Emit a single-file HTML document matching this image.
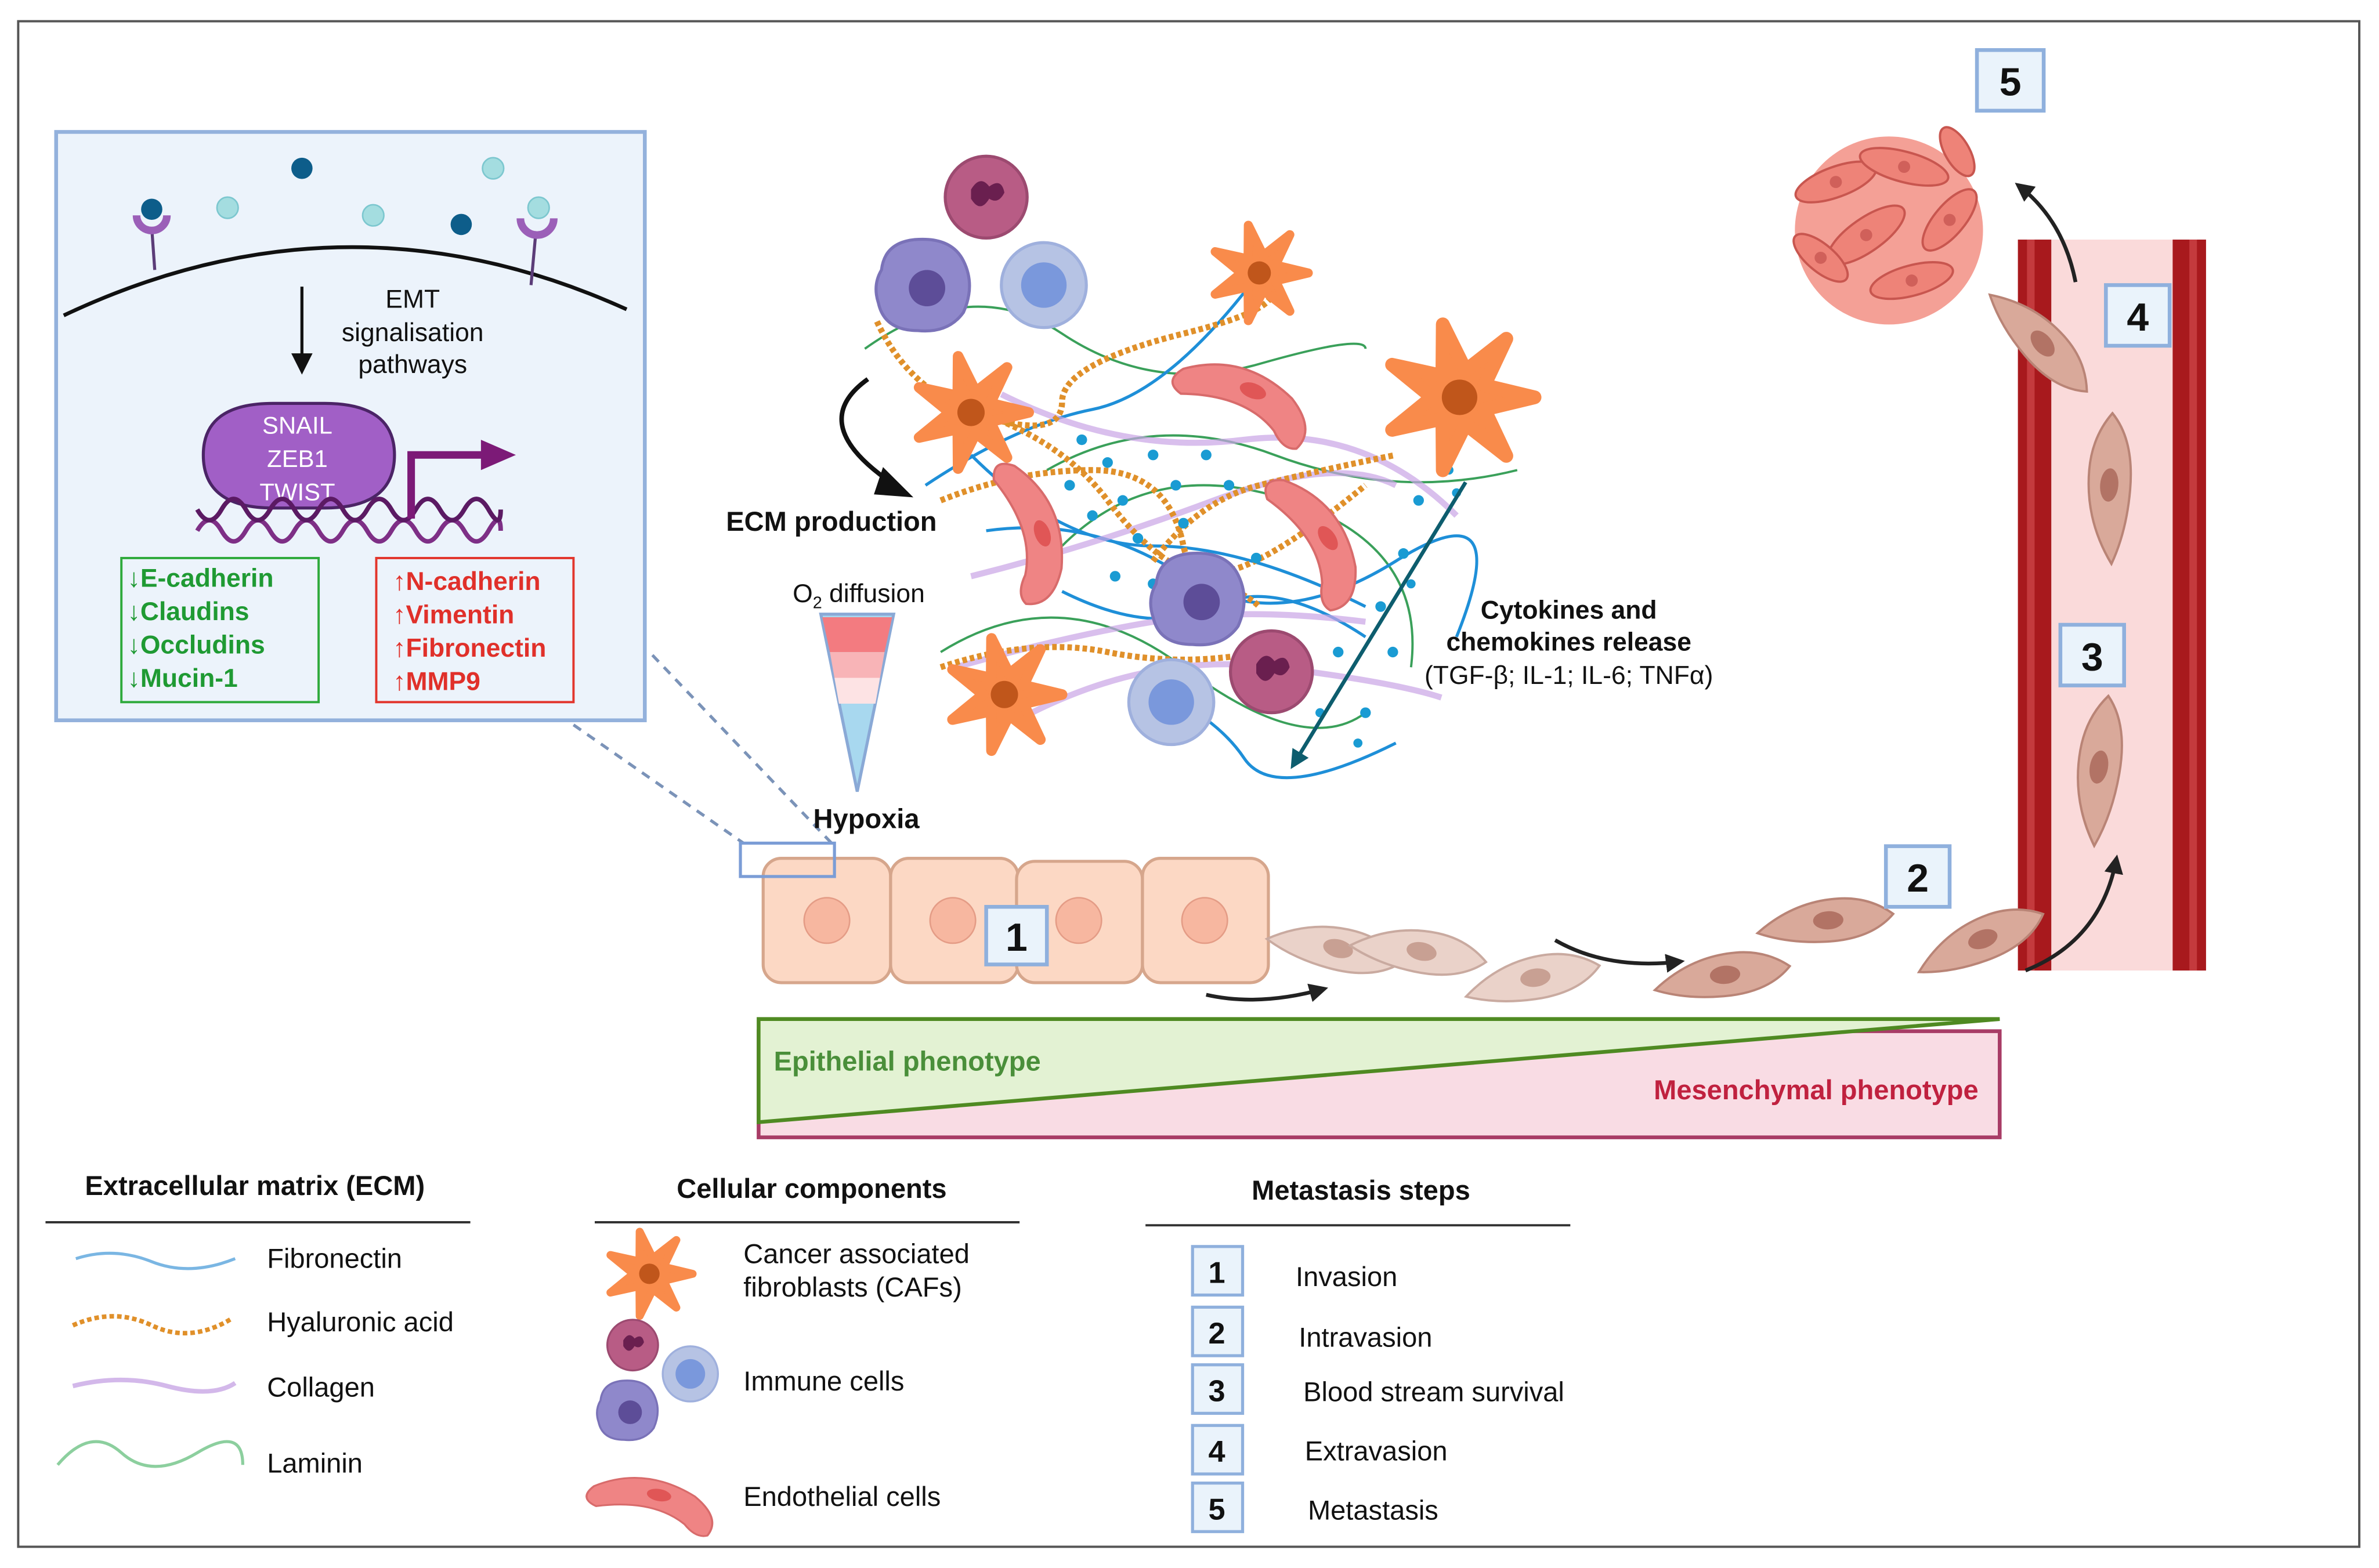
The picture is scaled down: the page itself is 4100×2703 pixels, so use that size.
<!DOCTYPE html>
<html><head><meta charset="utf-8"><style>
html,body{margin:0;padding:0;background:#fff;}
svg{display:block;}
text{font-family:"Liberation Sans",sans-serif;}
</style></head><body>
<svg width="4100" height="2703" viewBox="0 0 1568 1034" preserveAspectRatio="none" xmlns="http://www.w3.org/2000/svg">
<defs>
<g id="caf"><path d="M38,0 L12.6,6.1 L23.7,29.7 L3.1,13.6 L-8.5,37 L-8.7,10.9 L-34.2,16.5 L-14,0 L-34.2,-16.5 L-8.7,-10.9 L-8.5,-37 L3.1,-13.6 L23.7,-29.7 L12.6,-6.1Z" fill="#f98b4b" stroke="#f98b4b" stroke-width="7" stroke-linejoin="round"/><circle r="9" fill="#c0561b"/></g>
<g id="neu"><circle r="27" fill="#b85c85" stroke="#9c4a70" stroke-width="2"/><path d="M-10,-5 q6,-10 12,-2 q8,-6 10,4 q-4,8 -10,4 q-6,10 -12,0z" fill="#6a1f4f"/></g>
<g id="mac"><path d="M-28,-10 Q-26,-28 -6,-30 Q18,-32 26,-16 Q34,0 26,18 Q16,32 -4,30 Q-26,30 -30,12 Q-34,0 -28,-10Z" fill="#8f88cb" stroke="#7a72b8" stroke-width="2"/><circle cx="2" cy="2" r="12" fill="#5d4d98"/></g>
<g id="lym"><circle r="28" fill="#b6c3e4" stroke="#9fb0dd" stroke-width="2"/><circle r="15" fill="#7a98dc"/></g>
<g id="endo"><path d="M-44,-4 Q-10,-28 30,-10 Q52,4 44,20 Q36,24 26,14 Q0,-2 -40,12 Q-54,8 -44,-4Z" fill="#ef8484" stroke="#d86b6b" stroke-width="1.5"/><ellipse cx="4" cy="-6" rx="9" ry="5" fill="#e05656"/></g>
<g id="mes"><path d="M-45,6 Q-20,-14 10,-14 Q30,-14 45,-2 Q30,14 0,14 Q-25,14 -45,6Z" fill="#d9a99a" stroke="#b98476" stroke-width="1.5"/><ellipse cx="2" cy="0" rx="10" ry="6" fill="#b27365"/></g>
<g id="mesL"><path d="M-45,6 Q-20,-14 10,-14 Q30,-14 45,-2 Q30,14 0,14 Q-25,14 -45,6Z" fill="#ead2c9" stroke="#c9aaa0" stroke-width="1.5"/><ellipse cx="2" cy="0" rx="10" ry="6" fill="#c8a093"/></g>
<marker id="ah" viewBox="0 0 10 10" refX="8" refY="5" markerWidth="5" markerHeight="5" orient="auto"><path d="M0,0 L10,5 L0,10z" fill="#222"/></marker>
<marker id="ahT" viewBox="0 0 10 10" refX="8" refY="5" markerWidth="5" markerHeight="5" orient="auto"><path d="M0,0 L10,5 L0,10z" fill="#0d5d6e"/></marker>
</defs>
<rect width="1568" height="1034" fill="#fff"/>
<rect x="12" y="14" width="1543" height="1006" fill="none" stroke="#555" stroke-width="1.5"/>

<rect x="37" y="87" width="388" height="388" fill="#ecf3fb" stroke="#93b1dc" stroke-width="2.5"/>
<path d="M42,208 Q228,120 413,204" fill="none" stroke="#111" stroke-width="2.5"/>
<line x1="102" y1="178" x2="100" y2="150" stroke="#5b3c78" stroke-width="2"/>
<path d="M90,142 a10,10 0 0 0 20,0" fill="none" stroke="#9b5fb8" stroke-width="5"/>
<line x1="350" y1="188" x2="353" y2="155" stroke="#5b3c78" stroke-width="2"/>
<path d="M343,144 a11,11 0 0 0 22,0" fill="none" stroke="#9b5fb8" stroke-width="5"/>
<circle cx="100" cy="138" r="7" fill="#0d5d8a"/><circle cx="199" cy="111" r="7" fill="#0d5d8a"/><circle cx="304" cy="148" r="7" fill="#0d5d8a"/>
<circle cx="150" cy="137" r="7" fill="#a4dde0" stroke="#7cc7cf"/><circle cx="246" cy="142" r="7" fill="#a4dde0" stroke="#7cc7cf"/><circle cx="325" cy="111" r="7" fill="#a4dde0" stroke="#7cc7cf"/><circle cx="355" cy="137" r="7" fill="#a4dde0" stroke="#7cc7cf"/>
<line x1="199" y1="189" x2="199" y2="238" stroke="#111" stroke-width="2"/><path d="M192,233 L206,233 L199,247Z" fill="#111"/>
<text x="272" y="203" font-size="17" text-anchor="middle" fill="#111">EMT</text>
<text x="272" y="225" font-size="17" text-anchor="middle" fill="#111">signalisation</text>
<text x="272" y="246" font-size="17" text-anchor="middle" fill="#111">pathways</text>
<path d="M134,300 Q134,266 180,266 L214,266 Q260,266 260,300 Q260,335 214,335 L180,335 Q134,335 134,300Z" fill="#a15fc6" stroke="#4b2466" stroke-width="2"/>
<text x="196" y="286" font-size="16" text-anchor="middle" fill="#fff">SNAIL</text>
<text x="196" y="308" font-size="16" text-anchor="middle" fill="#fff">ZEB1</text>
<text x="196" y="330" font-size="16" text-anchor="middle" fill="#fff">TWIST</text>
<path d="M130,350 q8,-14 16,0 t16,0 t16,0 t16,0 t16,0 t16,0 t16,0 t16,0 t16,0 t16,0 t16,0 t16,0 t8,0" fill="none" stroke="#7e2f86" stroke-width="3"/>
<path d="M130,336 q8,14 16,0 t16,0 t16,0 t16,0 t16,0 t16,0 t16,0 t16,0 t16,0 t16,0 t16,0 t16,0 t8,0" fill="none" stroke="#5b1a63" stroke-width="3"/>
<path d="M271,342 L271,300 L320,300" fill="none" stroke="#7c1a77" stroke-width="5"/><path d="M317,290 L340,300 L317,310Z" fill="#7c1a77"/>
<rect x="80" y="368" width="130" height="95" fill="none" stroke="#2faa3c" stroke-width="1.5"/>
<rect x="248" y="368" width="130" height="95" fill="none" stroke="#e2352c" stroke-width="1.5"/>
<g font-size="17" font-weight="bold" fill="#1f9a33"><text x="84" y="387">↓E-cadherin</text><text x="84" y="409">↓Claudins</text><text x="84" y="431">↓Occludins</text><text x="84" y="453">↓Mucin-1</text></g>
<g font-size="17" font-weight="bold" fill="#e0302a"><text x="259" y="389">↑N-cadherin</text><text x="259" y="411">↑Vimentin</text><text x="259" y="433">↑Fibronectin</text><text x="259" y="455">↑MMP9</text></g>
<line x1="378" y1="478" x2="490" y2="556" stroke="#7b93b8" stroke-width="2" stroke-dasharray="6,5"/>
<line x1="430" y1="432" x2="550" y2="558" stroke="#7b93b8" stroke-width="2" stroke-dasharray="6,5"/>

<g fill="none" stroke-width="2">
<path d="M570,230 Q640,180 700,220 T830,240 T900,230" stroke="#3aa05a" stroke-width="1.5"/>
<path d="M690,310 Q760,270 840,300 T1000,310" stroke="#3aa05a" stroke-width="1.5"/>
<path d="M620,430 Q700,380 780,440 T900,470" stroke="#3aa05a" stroke-width="1.5"/>
<path d="M700,360 Q760,300 850,330 T930,440" stroke="#3aa05a" stroke-width="1.5"/>
<path d="M610,320 Q670,280 720,270 T830,180" stroke="#1e8fd8"/>
<path d="M650,350 Q720,340 780,380 T920,370 T960,420" stroke="#1e8fd8"/>
<path d="M700,390 Q760,420 800,400 T900,420" stroke="#1e8fd8"/>
<path d="M750,450 Q800,470 820,500 T920,490" stroke="#1e8fd8"/>
<path d="M640,300 Q700,360 760,360 T900,400" stroke="#1e8fd8"/>
<path d="M660,260 Q740,300 820,290 T960,340" stroke="#c9a4e6" stroke-width="4" opacity="0.7"/>
<path d="M640,380 Q720,360 800,330 T920,320" stroke="#c9a4e6" stroke-width="4" opacity="0.7"/>
<path d="M630,440 Q700,420 760,410 T900,410" stroke="#c9a4e6" stroke-width="4" opacity="0.7"/>
<path d="M680,470 Q760,430 840,440 T950,460" stroke="#c9a4e6" stroke-width="4" opacity="0.7"/>
<path d="M578,212 Q600,260 650,275 T700,265 T780,220 T830,185" stroke="#e0902a" stroke-width="4" stroke-dasharray="3,2"/>
<path d="M620,330 Q670,310 720,310 T780,360 T900,320" stroke="#e0902a" stroke-width="4" stroke-dasharray="3,2"/>
<path d="M640,270 Q700,290 730,330 T790,380 T830,400" stroke="#e0902a" stroke-width="4" stroke-dasharray="3,2"/>
<path d="M620,440 Q680,420 730,430 T830,430" stroke="#e0902a" stroke-width="4" stroke-dasharray="3,2"/>
<path d="M760,370 Q790,330 830,320 T920,300" stroke="#e0902a" stroke-width="4" stroke-dasharray="3,2"/>
</g>
<g fill="#1a9bd3">
<circle cx="713" cy="290" r="3.5"/><circle cx="730" cy="305" r="3.5"/><circle cx="740" cy="330" r="3.5"/><circle cx="760" cy="300" r="3.5"/><circle cx="775" cy="320" r="3.5"/><circle cx="720" cy="340" r="3.5"/><circle cx="750" cy="355" r="3.5"/><circle cx="780" cy="345" r="3.5"/><circle cx="795" cy="300" r="3.5"/><circle cx="735" cy="380" r="3.5"/><circle cx="760" cy="385" r="3.5"/><circle cx="810" cy="320" r="3.5"/><circle cx="828" cy="368" r="3.5"/><circle cx="705" cy="320" r="3.5"/>
<circle cx="925" cy="365" r="3.5"/><circle cx="935" cy="330" r="3.5"/><circle cx="910" cy="400" r="3.5"/><circle cx="882" cy="430" r="3.5"/><circle cx="900" cy="470" r="3.5"/><circle cx="918" cy="430" r="3.5"/><circle cx="955" cy="310" r="3"/><circle cx="870" cy="470" r="3"/><circle cx="895" cy="490" r="3"/><circle cx="960" cy="325" r="3"/><circle cx="930" cy="385" r="3"/></g>

<use href="#neu" x="650" y="130"/>
<use href="#mac" x="609" y="188"/>
<use href="#lym" x="688" y="188"/>
<use href="#caf" transform="translate(830,180) scale(0.85)"/>
<use href="#caf" transform="translate(640,272)"/>
<use href="#caf" transform="translate(962,262) scale(1.3)"/>
<use href="#caf" transform="translate(662,458)"/>
<use href="#endo" transform="translate(820,262) rotate(20)"/>
<use href="#endo" transform="translate(680,350) rotate(70)"/>
<use href="#endo" transform="translate(868,355) rotate(55)"/>
<use href="#mac" x="790" y="395"/>
<use href="#lym" x="772" y="463"/>
<use href="#neu" x="838" y="443"/>

<path d="M572,250 Q530,280 590,320" fill="none" stroke="#111" stroke-width="3"/><path d="M582,308 L602,328 L576,326Z" fill="#111"/>
<text x="548" y="350" font-size="18" font-weight="bold" text-anchor="middle" fill="#111">ECM production</text>
<text x="566" y="397" font-size="17" text-anchor="middle" fill="#111">O<tspan font-size="11" dy="4">2</tspan><tspan dy="-4"> diffusion</tspan></text>
<path d="M541,405 L589,405 L565,522Z" fill="#a8d8ef" stroke="#8aa9d6" stroke-width="2"/>
<path d="M542,407 L588,407 L583,430 L547,430Z" fill="#f37b80"/>
<path d="M547,430 L583,430 L580,447 L550,447Z" fill="#f8b4b7"/>
<path d="M550,447 L580,447 L577,464 L553,464Z" fill="#fde3e4"/>
<text x="571" y="546" font-size="18" font-weight="bold" text-anchor="middle" fill="#111">Hypoxia</text>

<line x1="966" y1="318" x2="852" y2="505" stroke="#0d5d6e" stroke-width="2.5" marker-end="url(#ahT)"/>
<g font-size="17" text-anchor="middle" fill="#111"><text x="1034" y="408" font-weight="bold">Cytokines and</text><text x="1034" y="429" font-weight="bold">chemokines release</text><text x="1034" y="451">(TGF-β; IL-1; IL-6; TNFα)</text></g>

<g fill="#fcd8c4" stroke="#d6a68c" stroke-width="2">
<rect x="503" y="566" width="84" height="82" rx="12"/><rect x="587" y="566" width="84" height="82" rx="12"/><rect x="670" y="568" width="83" height="80" rx="12"/><rect x="753" y="566" width="83" height="82" rx="12"/></g>
<g fill="#f7b7a0" stroke="#e49c86"><circle cx="545" cy="607" r="15"/><circle cx="628" cy="607" r="15"/><circle cx="711" cy="607" r="15"/><circle cx="794" cy="607" r="15"/></g>
<rect x="488" y="556" width="62" height="22" fill="none" stroke="#7b9dd6" stroke-width="2"/>

<use href="#mesL" transform="translate(880,625) rotate(15)"/>
<use href="#mesL" transform="translate(935,627) rotate(12)"/>
<use href="#mesL" transform="translate(1010,645) rotate(-8)"/>
<use href="#mes" transform="translate(1135,643) rotate(-5)"/>
<use href="#mes" transform="translate(1203,607) rotate(-3)"/>

<rect x="1330" y="158" width="124" height="482" fill="#fadada"/>
<rect x="1330" y="158" width="22" height="482" fill="#a8191d"/><rect x="1432" y="158" width="22" height="482" fill="#a8191d"/>
<rect x="1336" y="158" width="5" height="482" fill="#c43a3d"/><rect x="1443" y="158" width="5" height="482" fill="#c43a3d"/>
<use href="#mes" transform="translate(1305,620) rotate(-20)"/>
<use href="#mes" transform="translate(1390,322) rotate(-85) scale(1.1,1)"/>
<use href="#mes" transform="translate(1383,508) rotate(-80) scale(1.1,1)"/>
<use href="#mes" transform="translate(1345,225) rotate(50)"/>

<circle cx="1245" cy="152" r="62" fill="#f4a096"/>
<g fill="#ee8378" stroke="#c8564f" stroke-width="1.5">
<ellipse cx="1210" cy="120" rx="28" ry="10" transform="rotate(-20 1210 120)"/><ellipse cx="1255" cy="110" rx="30" ry="10" transform="rotate(15 1255 110)"/><ellipse cx="1285" cy="145" rx="25" ry="10" transform="rotate(-50 1285 145)"/><ellipse cx="1230" cy="155" rx="30" ry="11" transform="rotate(-35 1230 155)"/><ellipse cx="1200" cy="170" rx="22" ry="9" transform="rotate(40 1200 170)"/><ellipse cx="1260" cy="185" rx="28" ry="10" transform="rotate(-15 1260 185)"/><ellipse cx="1290" cy="100" rx="18" ry="8" transform="rotate(60 1290 100)"/></g>
<g fill="#d0605a"><circle cx="1210" cy="120" r="4"/><circle cx="1255" cy="110" r="4"/><circle cx="1285" cy="145" r="4"/><circle cx="1230" cy="155" r="4"/><circle cx="1200" cy="170" r="4"/><circle cx="1260" cy="185" r="4"/></g>

<g fill="none" stroke="#222" stroke-width="2.5" marker-end="url(#ah)">
<path d="M795,656 Q830,664 873,652"/>
<path d="M1025,620 Q1060,640 1108,634"/>
<path d="M1335,640 Q1385,620 1395,566"/>
<path d="M1368,186 Q1360,145 1330,122"/>
</g>

<g font-size="26" font-weight="bold" text-anchor="middle" fill="#111">
<rect x="650" y="598" width="40" height="38" fill="#eaf3fb" stroke="#8fb0dd" stroke-width="2.5"/><text x="670" y="627">1</text>
<rect x="1243" y="558" width="42" height="40" fill="#eaf3fb" stroke="#8fb0dd" stroke-width="2.5"/><text x="1264" y="588">2</text>
<rect x="1358" y="412" width="42" height="40" fill="#eaf3fb" stroke="#8fb0dd" stroke-width="2.5"/><text x="1379" y="442">3</text>
<rect x="1388" y="188" width="42" height="40" fill="#eaf3fb" stroke="#8fb0dd" stroke-width="2.5"/><text x="1409" y="218">4</text>
<rect x="1303" y="33" width="44" height="40" fill="#eaf3fb" stroke="#8fb0dd" stroke-width="2.5"/><text x="1325" y="63">5</text>
</g>

<path d="M500,680 L1318,680 L1318,750 L500,750Z" fill="#f9dce4" stroke="#a83c66" stroke-width="2.5"/>
<path d="M500,672 L1318,672 L500,740Z" fill="#e3f2d3" stroke="#4f8a22" stroke-width="2.5"/>
<text x="598" y="706" font-size="18" font-weight="bold" text-anchor="middle" fill="#4a8f3a">Epithelial phenotype</text>
<text x="1197" y="725" font-size="18" font-weight="bold" text-anchor="middle" fill="#c0213f">Mesenchymal phenotype</text>

<g font-size="18" font-weight="bold" text-anchor="middle" fill="#111"><text x="168" y="788">Extracellular matrix (ECM)</text><text x="535" y="790">Cellular components</text><text x="897" y="791">Metastasis steps</text></g>
<g stroke="#333" stroke-width="1.5"><line x1="30" y1="806" x2="310" y2="806"/><line x1="392" y1="806" x2="672" y2="806"/><line x1="755" y1="808" x2="1035" y2="808"/></g>
<g fill="none" stroke-width="2">
<path d="M50,830 Q75,822 100,832 T155,830" stroke="#7ab6e3"/>
<path d="M48,874 Q75,862 100,874 T152,870" stroke="#e0902a" stroke-width="3" stroke-dasharray="3,2"/>
<path d="M48,914 Q80,906 110,914 T155,912" stroke="#d3b8ea" stroke-width="3"/>
<path d="M38,966 Q60,940 80,958 T130,958 T160,966" stroke="#8ccf9e"/>
</g>
<g font-size="18" fill="#111"><text x="176" y="836">Fibronectin</text><text x="176" y="878">Hyaluronic acid</text><text x="176" y="921">Collagen</text><text x="176" y="971">Laminin</text>
<text x="490" y="833">Cancer associated</text><text x="490" y="855">fibroblasts (CAFs)</text><text x="490" y="917">Immune cells</text><text x="490" y="993">Endothelial cells</text>
<text x="854" y="848">Invasion</text><text x="856" y="888">Intravasion</text><text x="859" y="924">Blood stream survival</text><text x="860" y="963">Extravasion</text><text x="862" y="1002">Metastasis</text></g>
<use href="#caf" transform="translate(428,840) scale(0.75)"/>
<use href="#neu" transform="translate(417,887) scale(0.62)"/>
<use href="#lym" transform="translate(455,906) scale(0.65)"/>
<use href="#mac" transform="translate(414,930) scale(0.65)"/>
<use href="#endo" transform="translate(430,990) rotate(10) scale(0.9,0.8)"/>
<g font-size="20" font-weight="bold" text-anchor="middle" fill="#111">
<rect x="786" y="822" width="33" height="32" fill="#eaf3fb" stroke="#8fb0dd" stroke-width="2"/><text x="802" y="846">1</text>
<rect x="786" y="862" width="33" height="32" fill="#eaf3fb" stroke="#8fb0dd" stroke-width="2"/><text x="802" y="886">2</text>
<rect x="786" y="900" width="33" height="32" fill="#eaf3fb" stroke="#8fb0dd" stroke-width="2"/><text x="802" y="924">3</text>
<rect x="786" y="940" width="33" height="32" fill="#eaf3fb" stroke="#8fb0dd" stroke-width="2"/><text x="802" y="964">4</text>
<rect x="786" y="978" width="33" height="32" fill="#eaf3fb" stroke="#8fb0dd" stroke-width="2"/><text x="802" y="1002">5</text>
</g>
</svg>
</body></html>
